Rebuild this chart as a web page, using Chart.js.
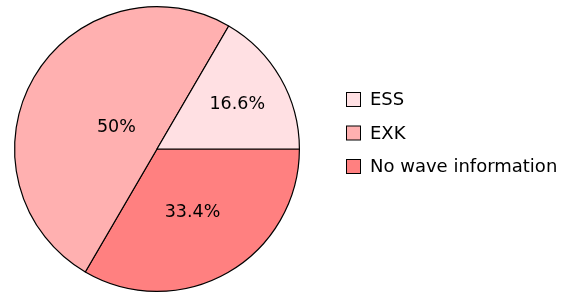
<!DOCTYPE html>
<html>
<head>
<meta charset="utf-8">
<script src="https://cdn.jsdelivr.net/npm/chart.js@4/dist/chart.umd.min.js"></script>
<style>
  html, body { margin: 0; padding: 0; background: #fff; }
  #wrap { width: 569px; height: 293px; }
</style>
</head>
<body>
<div id="wrap"><canvas id="myChart" width="569" height="293"></canvas></div>
<script>
// legend order (top to bottom)
var categories = ['ESS', 'EXK', 'No wave information'];
var shares = [16.6, 50, 33.4];
var shareLabels = ['16.6%', '50%', '33.4%'];
var colors = ['rgb(255, 224, 227)', 'rgb(255, 176, 176)', 'rgb(255, 128, 128)'];

// pie is drawn clockwise from 3 o'clock, so slices go in reverse order
var order = [2, 1, 0];
// how far out each label sits (fraction of radius), per category
var labelDist = [0.65, 0.33, 0.5];

var FONT = '"DejaVu Sans", sans-serif';

var sliceLabels = {
  id: 'sliceLabels',
  afterDatasetsDraw: function (chart) {
    var c = chart.ctx;
    var arcs = chart.getDatasetMeta(0).data;
    c.save();
    c.fillStyle = '#000';
    c.font = '17.5px ' + FONT;
    c.textAlign = 'center';
    c.textBaseline = 'middle';
    arcs.forEach(function (arc, i) {
      var k = order[i];
      var mid = (arc.startAngle + arc.endAngle) / 2;
      var r = arc.outerRadius * labelDist[k];
      c.fillText(shareLabels[k], arc.x + Math.cos(mid) * r, arc.y + Math.sin(mid) * r + 2);
    });
    c.restore();
  }
};

var sideLegend = {
  id: 'sideLegend',
  afterDraw: function (chart) {
    var c = chart.ctx;
    c.save();
    c.font = '18px ' + FONT;
    c.textBaseline = 'middle';
    categories.forEach(function (name, i) {
      var y = 99.5 + i * 33.5;
      c.fillStyle = colors[i];
      c.fillRect(346.5, y - 7, 14, 14);
      c.strokeStyle = '#000';
      c.lineWidth = 1;
      c.strokeRect(346.5, y - 7, 14, 14);
      c.fillStyle = '#000';
      c.fillText(name, 370, y + 1);
    });
    c.restore();
  }
};

var ctx = document.getElementById('myChart');
new Chart(ctx, {
  type: 'pie',
  data: {
    labels: order.map(function (k) { return categories[k]; }),
    datasets: [{
      data: order.map(function (k) { return shares[k]; }),
      backgroundColor: order.map(function (k) { return colors[k]; }),
      borderColor: '#000',
      borderWidth: 1.2
    }]
  },
  options: {
    responsive: false,
    animation: false,
    rotation: 90,
    layout: { padding: { left: 14, top: 6, right: 269, bottom: 1 } },
    plugins: {
      legend: { display: false },
      tooltip: { enabled: false }
    }
  },
  plugins: [sliceLabels, sideLegend]
});
</script>
</body>
</html>
